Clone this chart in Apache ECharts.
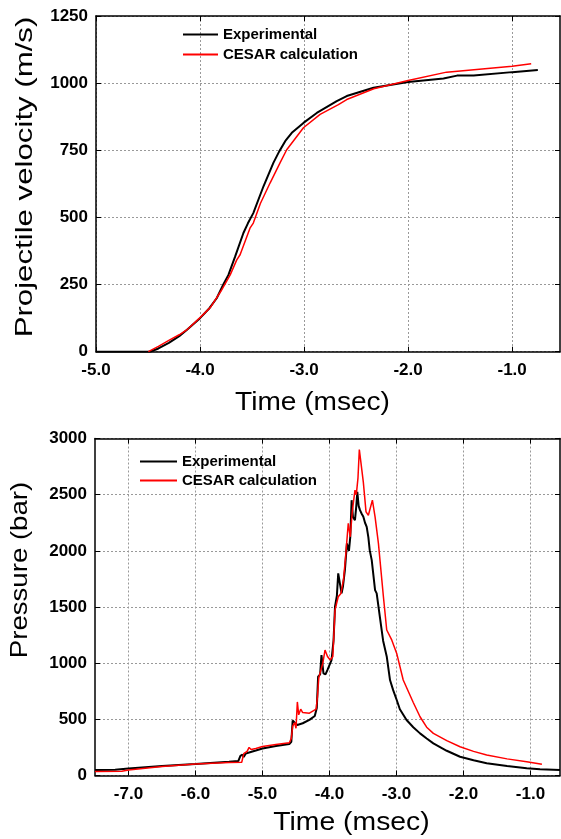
<!DOCTYPE html>
<html>
<head>
<meta charset="utf-8">
<script src="https://cdn.jsdelivr.net/npm/echarts@6.0.0/dist/echarts.min.js"></script>
<style>
  html, body { margin: 0; padding: 0; background: #fff; }
  #chart { width: 561px; height: 839px; }
</style>
</head>
<body>
<div id="chart"></div>
<script>
// [time (msec), velocity (m/s)]
var velocityExperimental = [
  [-5.0, 0], [-4.48, 0], [-4.4, 12], [-4.3, 33], [-4.2, 58], [-4.128, 81], [-4.0, 125],
  [-3.91, 162], [-3.84, 199], [-3.775, 251], [-3.727, 286], [-3.663, 354], [-3.583, 442],
  [-3.54, 478], [-3.488, 516], [-3.39, 616], [-3.295, 703], [-3.24, 745], [-3.18, 785],
  [-3.118, 815], [-3.006, 852], [-2.878, 889], [-2.686, 933], [-2.59, 952], [-2.333, 983],
  [-2.0, 1004], [-1.66, 1017], [-1.53, 1028], [-1.37, 1028], [-1.0, 1041], [-0.753, 1049]
];
var velocityCesar = [
  [-4.497, 0], [-4.4, 20], [-4.3, 42], [-4.2, 63], [-4.128, 81], [-4.0, 127], [-3.9, 165],
  [-3.8, 225], [-3.71, 286], [-3.647, 342], [-3.615, 361], [-3.52, 460], [-3.488, 479],
  [-3.42, 552], [-3.327, 628], [-3.23, 704], [-3.167, 752], [-3.006, 834], [-2.846, 884],
  [-2.67, 920], [-2.59, 939], [-2.33, 979], [-2.0, 1010], [-1.63, 1041], [-1.0, 1063],
  [-0.817, 1072]
];

// [time (msec), pressure (bar)]
var pressureExperimental = [
  [-7.5, 50], [-7.2, 52], [-7.0, 62], [-6.5, 85], [-6.0, 102], [-5.5, 122], [-5.36, 130],
  [-5.33, 175], [-5.3, 185], [-5.28, 165], [-5.25, 195], [-5.2, 205], [-5.1, 222], [-5.0, 240],
  [-4.8, 262], [-4.6, 280], [-4.57, 300], [-4.55, 490], [-4.52, 470], [-4.48, 450], [-4.4, 465],
  [-4.3, 495], [-4.22, 530], [-4.19, 600], [-4.17, 880], [-4.14, 900], [-4.12, 1072],
  [-4.09, 909], [-4.06, 900], [-4.03, 940], [-3.97, 1028], [-3.94, 1200], [-3.918, 1502],
  [-3.89, 1600], [-3.87, 1799], [-3.82, 1621], [-3.8, 1680], [-3.77, 1830], [-3.74, 2066],
  [-3.71, 2000], [-3.69, 2125], [-3.67, 2451], [-3.65, 2300], [-3.62, 2273], [-3.6, 2400],
  [-3.585, 2525], [-3.565, 2400], [-3.545, 2362], [-3.52, 2330], [-3.495, 2303], [-3.47, 2250],
  [-3.445, 2214], [-3.42, 2120], [-3.4, 2006], [-3.37, 1917], [-3.32, 1650], [-3.296, 1621],
  [-3.246, 1400], [-3.2, 1200], [-3.146, 1060], [-3.097, 850], [-3.05, 760], [-2.997, 672],
  [-2.95, 590], [-2.85, 494], [-2.75, 430], [-2.649, 375], [-2.55, 330], [-2.45, 286],
  [-2.25, 220], [-2.052, 167], [-1.85, 135], [-1.654, 109], [-1.35, 85], [-1.057, 64],
  [-0.858, 55], [-0.56, 49]
];
var pressureCesar = [
  [-7.5, 35], [-7.1, 38], [-7.0, 48], [-6.5, 80], [-6.0, 102], [-5.5, 115], [-5.31, 118],
  [-5.28, 195], [-5.23, 215], [-5.2, 250], [-5.17, 232], [-5.1, 240], [-5.0, 258], [-4.8, 275],
  [-4.6, 292], [-4.57, 330], [-4.55, 440], [-4.52, 470], [-4.5, 420], [-4.48, 655],
  [-4.46, 540], [-4.43, 590], [-4.4, 560], [-4.3, 555], [-4.2, 590], [-4.18, 700],
  [-4.16, 870], [-4.142, 909], [-4.1, 1000], [-4.067, 1117], [-4.03, 1060], [-3.99, 1028],
  [-3.95, 1060], [-3.918, 1472], [-3.87, 1591], [-3.83, 1620], [-3.79, 1750], [-3.76, 1950],
  [-3.72, 2244], [-3.69, 2125], [-3.66, 2350], [-3.62, 2540], [-3.6, 2500], [-3.575, 2650],
  [-3.555, 2902], [-3.53, 2780], [-3.495, 2610], [-3.455, 2347], [-3.42, 2317], [-3.4, 2333],
  [-3.36, 2451], [-3.32, 2303], [-3.27, 2066], [-3.197, 1600], [-3.146, 1295], [-3.07, 1205],
  [-2.997, 1087], [-2.9, 850], [-2.75, 650], [-2.649, 523], [-2.55, 430], [-2.45, 375],
  [-2.25, 310], [-2.052, 256], [-1.85, 215], [-1.654, 182], [-1.35, 148], [-1.057, 123],
  [-0.83, 100]
];

var velocityTimeTicks = [-5, -4, -3, -2, -1];
var pressureTimeTicks = [-7, -6, -5, -4, -3, -2, -1];
var seriesNames = ['Experimental', 'CESAR calculation'];

var labelFont = { color: '#000', fontFamily: 'Liberation Sans, Arial, sans-serif', fontWeight: 'bold', fontSize: 17 };
var gridLine = { show: true, lineStyle: { color: '#999', type: [2, 2], width: 1 } };
var axisLine = { show: true, onZero: false, lineStyle: { color: '#000', width: 1.5 } };
var innerTick = { show: true, inside: true, length: 5, lineStyle: { color: '#000', width: 1 } };
var legendText = { color: '#000', fontWeight: 'bold', fontSize: 15, fontFamily: 'Liberation Sans, Arial, sans-serif' };

function timeLabel(v) {
  if (Math.abs(v - Math.round(v)) > 1e-6) return '';
  return v.toFixed(1);
}

function plainLabel(v) {
  return String(v);
}

function mirrorX(gridIndex, min, max, ticks) {
  return {
    type: 'value', gridIndex: gridIndex, position: 'top', min: min, max: max,
    axisLine: axisLine, axisTick: Object.assign({ customValues: ticks }, innerTick),
    axisLabel: { show: false, customValues: ticks }, splitLine: { show: false }
  };
}

function mirrorY(gridIndex, max, interval) {
  return {
    type: 'value', gridIndex: gridIndex, position: 'right', min: 0, max: max, interval: interval,
    axisLine: axisLine, axisTick: innerTick, axisLabel: { show: false }, splitLine: { show: false }
  };
}

function titleText(text, x, y, rotation, size, stretch) {
  return {
    type: 'text', x: x, y: y, rotation: rotation, scaleX: stretch,
    style: {
      text: text, fill: '#000', align: 'center', verticalAlign: 'middle',
      font: 'normal ' + size + 'px "Liberation Sans", Arial, sans-serif'
    }
  };
}

var myChart = echarts.init(document.getElementById('chart'), null, { renderer: 'canvas' });

var option = {
  animation: false,
  backgroundColor: '#fff',
  grid: [
    { left: 96, right: 1, top: 16, bottom: 487.3 },
    { left: 95, right: 1, top: 438.5, bottom: 63.5 }
  ],
  legend: [
    {
      data: seriesNames, orient: 'vertical', left: 178, top: 22,
      icon: 'rect', itemWidth: 35, itemHeight: 2, itemGap: 5,
      textStyle: legendText
    },
    {
      data: seriesNames, orient: 'vertical', left: 135, top: 449,
      icon: 'rect', itemWidth: 37, itemHeight: 2, itemGap: 4,
      textStyle: legendText
    }
  ],
  xAxis: [
    {
      type: 'value', gridIndex: 0, min: -5, max: -0.54,
      axisLine: axisLine, axisTick: Object.assign({ customValues: velocityTimeTicks }, innerTick),
      axisLabel: Object.assign({ margin: 10, formatter: timeLabel, customValues: velocityTimeTicks }, labelFont),
      splitLine: gridLine
    },
    mirrorX(0, -5, -0.54, velocityTimeTicks),
    {
      type: 'value', gridIndex: 1, min: -7.5, max: -0.56,
      axisLine: axisLine, axisTick: Object.assign({ customValues: pressureTimeTicks }, innerTick),
      axisLabel: Object.assign({ margin: 10, formatter: timeLabel, customValues: pressureTimeTicks }, labelFont),
      splitLine: gridLine
    },
    mirrorX(1, -7.5, -0.56, pressureTimeTicks)
  ],
  yAxis: [
    {
      type: 'value', gridIndex: 0, min: 0, max: 1250, interval: 250,
      axisLine: axisLine, axisTick: innerTick,
      axisLabel: Object.assign({ margin: 8, formatter: plainLabel }, labelFont), splitLine: gridLine
    },
    mirrorY(0, 1250, 250),
    {
      type: 'value', gridIndex: 1, min: 0, max: 3000, interval: 500,
      axisLine: axisLine, axisTick: innerTick,
      axisLabel: Object.assign({ margin: 8, formatter: plainLabel }, labelFont), splitLine: gridLine
    },
    mirrorY(1, 3000, 500)
  ],
  series: [
    {
      name: seriesNames[0], type: 'line', xAxisIndex: 0, yAxisIndex: 0,
      data: velocityExperimental, symbol: 'none',
      lineStyle: { color: '#000', width: 2 }, itemStyle: { color: '#000' }
    },
    {
      name: seriesNames[1], type: 'line', xAxisIndex: 0, yAxisIndex: 0,
      data: velocityCesar, symbol: 'none',
      lineStyle: { color: '#ff0000', width: 1.5 }, itemStyle: { color: '#ff0000' }
    },
    {
      name: seriesNames[0], type: 'line', xAxisIndex: 2, yAxisIndex: 2,
      data: pressureExperimental, symbol: 'none',
      lineStyle: { color: '#000', width: 2 }, itemStyle: { color: '#000' }
    },
    {
      name: seriesNames[1], type: 'line', xAxisIndex: 2, yAxisIndex: 2,
      data: pressureCesar, symbol: 'none',
      lineStyle: { color: '#ff0000', width: 1.5 }, itemStyle: { color: '#ff0000' }
    }
  ],
  graphic: [
    titleText('Projectile velocity (m/s)', 25, 177, Math.PI / 2, 24, 1.3),
    titleText('Time (msec)', 312.5, 403, 0, 26, 1.08),
    titleText('Pressure (bar)', 20, 570, Math.PI / 2, 24, 1.15),
    titleText('Time (msec)', 351.5, 823, 0, 26, 1.09)
  ]
};

myChart.setOption(option);
</script>
</body>
</html>
